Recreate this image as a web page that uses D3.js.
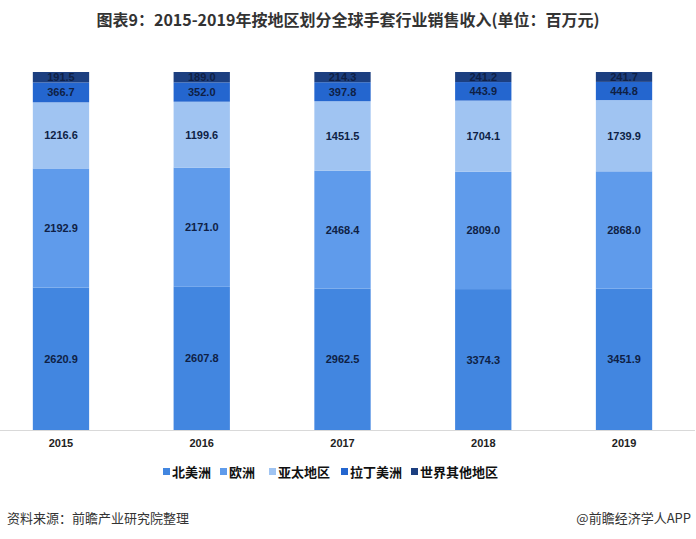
<!DOCTYPE html>
<html>
<head>
<meta charset="utf-8">
<script src="https://cdn.jsdelivr.net/npm/d3@7"></script>
<style>
  body { margin: 0; background: #fff; }
  svg { display: block; }
</style>
</head>
<body>
<script>
const years = ["2015", "2016", "2017", "2018", "2019"];
const regions = ["北美洲", "欧洲", "亚太地区", "拉丁美洲", "世界其他地区"];
const northAmerica = [2620.9, 2607.8, 2962.5, 3374.3, 3451.9];
const europe = [2192.9, 2171.0, 2468.4, 2809.0, 2868.0];
const asiaPacific = [1216.6, 1199.6, 1451.5, 1704.1, 1739.9];
const latinAmerica = [366.7, 352.0, 397.8, 443.9, 444.8];
const restOfWorld = [191.5, 189.0, 214.3, 241.2, 241.7];

const colors = ["#4286e0", "#5f9beb", "#a0c4f2", "#2466cf", "#1c3f80"];

const W = 696, H = 539;
const plotTop = 72, plotBottom = 430;

const series = [northAmerica, europe, asiaPacific, latinAmerica, restOfWorld];
const table = years.map((yr, i) => {
  const row = { year: yr };
  regions.forEach((r, k) => (row[r] = series[k][i]));
  return row;
});

// 100% stacked
const stacked = d3.stack().keys(regions).offset(d3.stackOffsetExpand)(table);

const svg = d3.select("body").append("svg").attr("width", W).attr("height", H);

// title
svg.append("text")
  .attr("x", W / 2).attr("y", 26)
  .attr("text-anchor", "middle")
  .style("font-family", "'Noto Sans CJK SC', sans-serif")
  .style("font-weight", "bold")
  .style("font-size", "16px")
  .style("fill", "#333")
  .text("图表9：2015-2019年按地区划分全球手套行业销售收入(单位：百万元)");

// band centers land at ~61 ... ~624
const x = d3.scaleBand().domain(years)
  .range([61 - 70.4, 624 + 70.4])
  .paddingInner(0.6).paddingOuter(0.3);
const y = d3.scaleLinear().domain([0, 1]).range([plotBottom, plotTop]);

const g = svg.append("g");
const layers = g.selectAll("g.layer").data(stacked).enter().append("g")
  .attr("class", "layer")
  .attr("fill", (d, i) => colors[i]);

layers.selectAll("rect").data(d => d).enter().append("rect")
  .attr("x", d => x(d.data.year))
  .attr("width", x.bandwidth())
  .attr("y", d => y(d[1]))
  .attr("height", d => y(d[0]) - y(d[1]));

layers.each(function (layer) {
  d3.select(this).selectAll("text").data(layer).enter().append("text")
    .attr("x", d => x(d.data.year) + x.bandwidth() / 2)
    .attr("y", d => (y(d[0]) + y(d[1])) / 2 + 4)
    .attr("text-anchor", "middle")
    .style("font-family", "'Liberation Sans', Arial, sans-serif")
    .style("font-weight", "bold")
    .style("font-size", "11px")
    .style("fill", "#0f1f45")
    .text(d => d.data[layer.key].toFixed(1));
});

// x axis
svg.append("line")
  .attr("x1", 0).attr("x2", 695)
  .attr("y1", plotBottom + 0.5).attr("y2", plotBottom + 0.5)
  .attr("stroke", "#d9d9d9");

const xAxis = svg.append("g").attr("transform", `translate(0,${plotBottom})`)
  .call(d3.axisBottom(x).tickSize(0).tickPadding(9));
xAxis.select(".domain").remove();
xAxis.selectAll("text")
  .style("font-family", "'Liberation Sans', Arial, sans-serif")
  .style("font-weight", "bold")
  .style("font-size", "11px")
  .style("fill", "#222");

// legend
const legendX = [163, 220, 269, 341, 411];
const legend = svg.append("g");
regions.forEach((r, i) => {
  const item = legend.append("g").attr("transform", `translate(${legendX[i]},472)`);
  item.append("rect").attr("x", 0).attr("y", -4).attr("width", 7).attr("height", 7).attr("fill", colors[i]);
  item.append("text").attr("x", 9).attr("y", 5)
    .style("font-family", "'Noto Sans CJK SC', sans-serif")
    .style("font-weight", "bold")
    .style("font-size", "13px")
    .style("fill", "#111")
    .text(r);
});

// footer
svg.append("text")
  .attr("x", 7).attr("y", 523)
  .style("font-family", "'Noto Sans CJK SC', sans-serif")
  .style("font-size", "13px")
  .style("fill", "#333")
  .text("资料来源：前瞻产业研究院整理");

svg.append("text")
  .attr("x", 691).attr("y", 523)
  .attr("text-anchor", "end")
  .style("font-family", "'Noto Sans CJK SC', sans-serif")
  .style("font-size", "13px")
  .style("fill", "#333")
  .text("@前瞻经济学人APP");
</script>
</body>
</html>
